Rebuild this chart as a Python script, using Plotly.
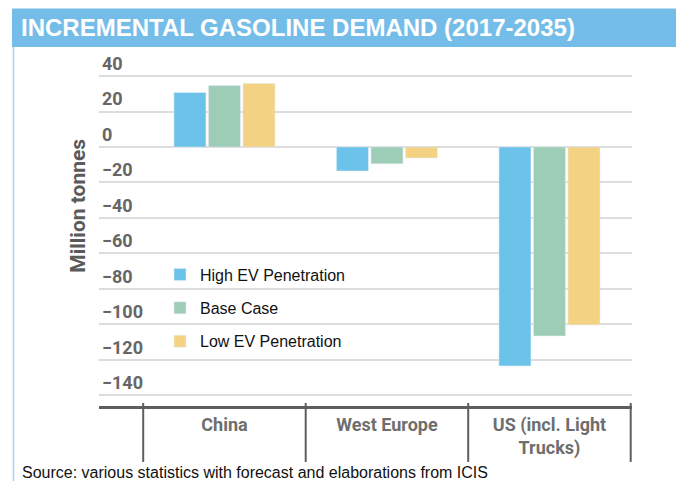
import plotly.graph_objects as go

# ---- data ----
categories = ["China", "West Europe", "US (incl. Light<br>Trucks)"]
high_ev = [30.7, -13.5, -123.4]
base_case = [34.7, -9.5, -106.5]
low_ev = [35.8, -6.2, -100.3]
series_names = ["High EV Penetration", "Base Case", "Low EV Penetration"]
y_ticks = [40, 20, 0, -20, -40, -60, -80, -100, -120, -140]

title_text = "INCREMENTAL GASOLINE DEMAND (2017-2035)"
y_title = "Million tonnes"
source_text = "Source: various statistics with forecast and elaborations from ICIS"

colors = ["#6CC3E9", "#9ECDB7", "#F3D383"]

# ---- geometry (page has an 8px body margin; coords below are window px) ----
OFF = 8
W, H = 684 - OFF, 481 - OFF
L, R, T, B = 99 - OFF, 52, 28.65, 75
PW, PH = W - L - R, H - T - B


def xp(px):
    return (px - OFF - L) / PW


def yp(py):
    return (H - B - (py - OFF)) / PH


fig = go.Figure()
for i, (name, vals) in enumerate(zip(series_names, [high_ev, base_case, low_ev])):
    fig.add_trace(go.Bar(
        x=[0, 1, 2], y=vals, name=name, marker_color=colors[i],
        legendgroup=f"g{i}", hoverinfo="y+name",
    ))

shapes = []
# header band
shapes.append(dict(type="rect", xref="paper", yref="paper",
                   x0=xp(12), x1=xp(700), y0=yp(46.7), y1=yp(8),
                   fillcolor="#74BDE9", line_width=0, layer="below"))
# panel side borders
for px in (13.5, 680):
    shapes.append(dict(type="line", xref="paper", yref="paper",
                       x0=xp(px), x1=xp(px), y0=yp(46.7), y1=yp(495),
                       line=dict(color="#A9D4EF", width=1.5)))
# category dividers
for xv in (-0.5, 0.5, 1.5, 2.5):
    shapes.append(dict(type="line", xref="x", yref="paper",
                       x0=xv, x1=xv, y0=yp(403), y1=yp(462),
                       line=dict(color="#5E5E5E", width=2)))

annotations = [
    dict(text=title_text, xref="paper", yref="paper", x=xp(19), y=yp(27.5),
         xanchor="left", yanchor="middle", showarrow=False,
         font=dict(family="Liberation Sans, Arial, sans-serif", size=24,
                   color="white", weight="bold")),
    dict(text=y_title, xref="paper", yref="paper", x=xp(78.5), y=yp(206),
         xanchor="center", yanchor="middle", textangle=-90, showarrow=False,
         font=dict(family="Roboto, sans-serif", size=21, color="#5A5A5A",
                   weight="bold")),
    dict(text=source_text, xref="paper", yref="paper", x=xp(19.5), y=yp(472.5),
         xanchor="left", yanchor="middle", showarrow=False,
         font=dict(family="Liberation Sans, Arial, sans-serif", size=16,
                   color="#111111")),
]

fig.update_layout(
    width=W, height=H,
    margin=dict(l=L, r=R, t=T, b=B, pad=0),
    paper_bgcolor="white", plot_bgcolor="rgba(0,0,0,0)",
    barmode="group", bargap=0.363, bargroupgap=0.0725,
    showlegend=True,
    legend=dict(x=xp(160), y=yp(257.5), xanchor="left", yanchor="top",
                bgcolor="rgba(0,0,0,0)", tracegroupgap=9.5,
                font=dict(family="Liberation Sans, Arial, sans-serif",
                          size=16, color="#111111")),
    xaxis=dict(range=[-0.772, 2.508], tickvals=[0, 1, 2], ticktext=categories,
               showline=True, linecolor="#5E5E5E", linewidth=3,
               ticks="", showgrid=False, zeroline=False,
               tickfont=dict(family="Roboto, sans-serif", size=18,
                             color="#6E6E6E", weight="bold")),
    yaxis=dict(range=[-146, 62], tickvals=y_ticks,
               ticklabelposition="inside top", ticks="",
               showgrid=True, gridcolor="#DDDDDD", gridwidth=2,
               zeroline=False, showline=False,
               tickfont=dict(family="Roboto, sans-serif", size=18,
                             color="#666666", weight="bold")),
    shapes=shapes, annotations=annotations,
)

fig.write_html("out.html")
